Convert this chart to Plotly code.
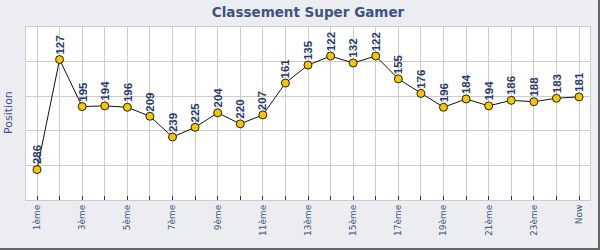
import plotly.graph_objects as go

categories = [f"{i}ème" for i in range(1, 25)] + ["Now"]
positions = [286, 127, 195, 194, 196, 209, 239, 225, 204, 220, 207, 161, 135,
             122, 132, 122, 155, 176, 196, 184, 194, 186, 188, 183, 181]
tick_text = [c if i % 2 == 0 else "" for i, c in enumerate(categories)]

W, H = 600, 250
ML, MR, MT, MB = 26, 10, 27, 50
pw, ph = W - ML - MR, H - MT - MB

def px_x(x):
    return (x - ML) / pw

def px_y(y):
    return (H - MB - y) / ph

fig = go.Figure()
fig.add_trace(go.Scatter(
    x=categories, y=positions, mode="lines+markers",
    line=dict(color="#111111", width=1),
    marker=dict(size=8, color="#f7c600", line=dict(color="#222222", width=1)),
    hoverinfo="skip", showlegend=False,
))

for c, v in zip(categories, positions):
    fig.add_annotation(
        x=c, y=v, text=str(v), showarrow=False, textangle=-90,
        xanchor="center", yanchor="bottom", yshift=3,
        font=dict(family="Liberation Sans, Arial, sans-serif", size=11.5,
                  color="#1f3a6b", weight="bold"),
    )

# y-axis title
fig.add_annotation(
    xref="paper", yref="paper", x=px_x(8), y=px_y(113),
    text="Position", showarrow=False, textangle=-90,
    xanchor="center", yanchor="middle",
    font=dict(family="DejaVu Sans, Verdana, sans-serif", size=11,
              color="#3d5483"),
)

# outer dark border (right and bottom)
fig.add_shape(type="line", xref="paper", yref="paper",
              x0=px_x(599), x1=px_x(599), y0=px_y(0), y1=px_y(250),
              line=dict(color="#666666", width=2))
fig.add_shape(type="line", xref="paper", yref="paper",
              x0=px_x(0), x1=px_x(600), y0=px_y(249), y1=px_y(249),
              line=dict(color="#666666", width=2))

fig.update_layout(
    width=W, height=H,
    margin=dict(l=ML, r=MR, t=MT, b=MB, pad=0),
    paper_bgcolor="#ecedf0", plot_bgcolor="#ffffff",
    title=dict(text="<b>Classement Super Gamer</b>", x=0.5, xref="paper",
               xanchor="center", y=1 - 12 / H, yanchor="middle",
               font=dict(family="DejaVu Sans, Verdana, sans-serif", size=13.5,
                         color="#3d5483")),
    xaxis=dict(
        type="category", categoryorder="array", categoryarray=categories,
        range=[-0.487, 24.487],
        tickmode="array", tickvals=categories, ticktext=tick_text,
        tickangle=-90, ticks="inside", ticklen=4, tickwidth=1,
        tickcolor="#1f3a6b",
        tickfont=dict(family="DejaVu Sans, Verdana, sans-serif", size=9,
                      color="#3d5483"),
        showgrid=True, gridcolor="#cccccc", gridwidth=1,
        showline=True, linecolor="#cccccc", linewidth=1, mirror=True,
        zeroline=False,
    ),
    yaxis=dict(
        range=[330, 80], tickmode="array", tickvals=[130, 180, 230, 280],
        showticklabels=False, ticks="",
        showgrid=True, gridcolor="#cccccc", gridwidth=1,
        showline=True, linecolor="#cccccc", linewidth=1, mirror=True,
        zeroline=False,
    ),
)

fig.write_html("out.html")
